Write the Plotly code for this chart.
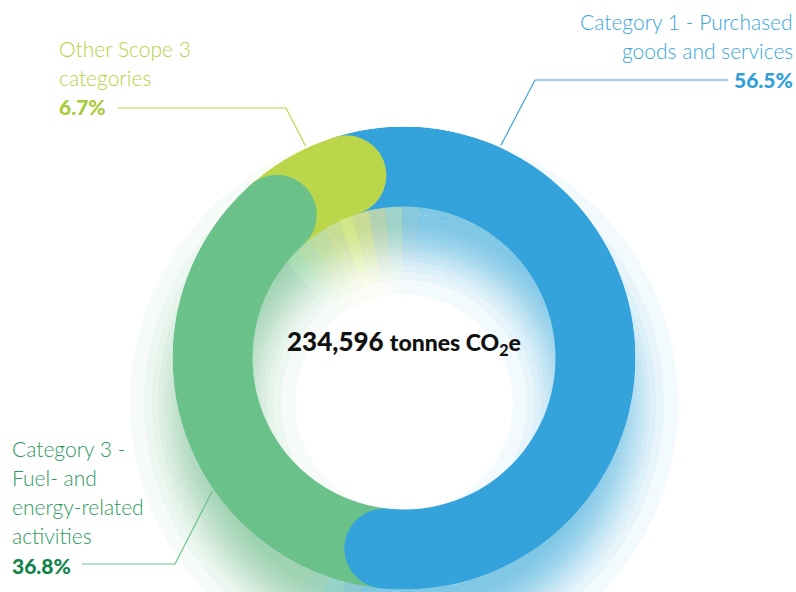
from math import erf

import numpy as np
import plotly.graph_objects as go

# data
categories = ["Category 1 - Purchased goods and services",
              "Category 3 - Fuel- and energy-related activities",
              "Other Scope 3 categories"]
shares = [56.5, 36.8, 6.7]
colors = ["#34a3db", "#6bc18a", "#bbd64a"]
total_text = "234,596"

# label text, one list per category (same order as above)
label_lines = [["Category 1 - Purchased", "goods and services"],
               ["Category 3 -", "Fuel- and", "energy-related", "activities"],
               ["Other Scope 3", "categories"]]
label_colors = ["#39a5dd", "#2e9a5e", "#b3d345"]
pct_colors = ["#2f9fd9", "#11844a", "#a8cb39"]

W, H = 796, 592
CX, CY = 404, 358          # ring centre, px from top-left
R_OUT, R_IN = 231.5, 151.5
R_MID = (R_OUT + R_IN) / 2
START = -17.5              # degrees clockwise from 12 o'clock

spans = np.array(shares) / 100 * 360
starts = START + np.concatenate([[0], np.cumsum(spans)[:-1]])
ends = starts + spans
mids = (starts + ends) / 2


def px(x, y):
    # pixel -> paper coords
    return x / W, 1 - y / H


def hex_rgb(h):
    h = h.lstrip("#")
    return np.array([int(h[i:i + 2], 16) for i in (0, 2, 4)], dtype=float)


# ---- soft drop shadow: stacked faint ring sectors, shifted down ----
SH_DY, SIG, PEAK, ALPHA = 45, 25, 0.7, 0.06
SCX, SCY = CX, CY + SH_DY
verf = np.vectorize(erf)
d_grid = np.arange(-40, 100, 0.25)          # distance beyond the ring edge
r_grid = R_OUT + d_grid
prof = PEAK * 0.5 * (verf((r_grid - R_IN) / (SIG * 2 ** 0.5))
                     - verf((r_grid - R_OUT) / (SIG * 2 ** 0.5)))
n_cov = np.log(1 - prof) / np.log(1 - ALPHA)
spreads = [d_grid[n_cov >= k - 0.5].max() for k in range(1, int(n_cov.max()) + 1)]

cap_deg = np.degrees((R_OUT - R_IN) / 2 / R_MID)
bounds = ends + cap_deg          # where visible colour i hands over to i+1
TW, NSTEP = 10, 4
pieces = []
for i in range(3):
    j = (i + 1) % 3
    b_prev = bounds[i - 1] - (360 if i == 0 else 0)
    pieces.append((b_prev + TW, bounds[i] - TW, hex_rgb(colors[i])))
    for s in range(NSTEP):
        f = (s + 0.5) / NSTEP
        a0 = bounds[i] - TW + s * 2 * TW / NSTEP
        pieces.append((a0, a0 + 2 * TW / NSTEP,
                       (1 - f) * hex_rgb(colors[i]) + f * hex_rgb(colors[j])))
p_theta = [(a0 + a1) / 2 for a0, a1, _ in pieces]
p_width = [a1 - a0 for a0, a1, _ in pieces]
p_col = [f"rgba({c[0]:.0f},{c[1]:.0f},{c[2]:.0f},{ALPHA})" for _, _, c in pieces]

# the shadow polar is as big as fits below the shadow centre
R_SPLIT = min(SCX, W - SCX, SCY, H - SCY)


def ring_sector(cx, cy, r0, r1, a0, a1):
    t = np.radians(np.linspace(a0, a1, int(abs(a1 - a0)) + 2))
    xs = np.concatenate([cx + r1 * np.sin(t), cx + r0 * np.sin(t[::-1])])
    ys = np.concatenate([cy - r1 * np.cos(t), cy - r0 * np.cos(t[::-1])])
    return np.append(xs, xs[0]), np.append(ys, ys[0])


fig = go.Figure()
# outer part of the shadow (beyond R_SPLIT) in pixel-space cartesian axes
for sp in spreads:
    for (a0, a1, _), col in zip(pieces, p_col):
        xs, ys = ring_sector(SCX, SCY, R_SPLIT, R_OUT + sp, a0, a1)
        fig.add_trace(go.Scatter(
            x=xs, y=ys, mode="lines", fill="toself", line=dict(width=0),
            fillcolor=col, hoverinfo="skip", showlegend=False))

# inner part of the shadow (inside R_SPLIT) as faint polar bars
for sp in spreads:
    base = R_IN - sp
    fig.add_trace(go.Barpolar(
        r=[R_SPLIT - base] * len(pieces), base=base, theta=p_theta, width=p_width,
        marker=dict(color=p_col, line=dict(width=0)),
        hoverinfo="skip", showlegend=False, subplot="polar"))

# ---- the ring itself ----
fig.add_trace(go.Barpolar(
    r=[R_OUT - R_IN] * 3, base=R_IN, theta=mids, width=spans,
    marker=dict(color=colors, line=dict(width=0)),
    text=categories, hoverinfo="text", showlegend=False, subplot="polar2",
))

# rounded end caps
for i in [2, 1, 0]:
    fig.add_trace(go.Scatterpolar(
        r=[R_MID], theta=[ends[i]], mode="markers",
        marker=dict(size=R_OUT - R_IN, color=colors[i], line=dict(width=0)),
        hoverinfo="skip", showlegend=False, subplot="polar2",
    ))

# ---- labels ----
LABEL_FONT = "Lato"
line_h = 29.3
label_pos = [(795, 21, "right"), (10, 448, "left"), (57, 48, "left")]
annotations = []
for i, (lx, ly, side) in enumerate(label_pos):
    for k, txt in enumerate(label_lines[i]):
        x, y = px(lx, ly + k * line_h)
        annotations.append(dict(
            x=x, y=y, xref="paper", yref="paper", text=txt, showarrow=False,
            xanchor=side, yanchor="middle",
            font=dict(family=LABEL_FONT, size=21, color=label_colors[i], weight=300)))
    x, y = px(lx, ly + len(label_lines[i]) * line_h)
    annotations.append(dict(
        x=x, y=y, xref="paper", yref="paper", text=f"{shares[i]}%", showarrow=False,
        xanchor=side, yanchor="middle",
        font=dict(family=LABEL_FONT, size=21, color=pct_colors[i], weight=900)))

# centre total
x, y = px(CX, 342)
annotations.append(dict(
    x=x, y=y, xref="paper", yref="paper", showarrow=False,
    text=f"{total_text} <span style='font-size:23px'>tonnes CO<sub>2</sub>e</span>",
    font=dict(family=LABEL_FONT, size=26, color="#111111", weight=900)))

# leader lines: label elbow -> ring edge
leaders = [((728, 80), (535, 80), 24.5),
           ((82, 564), (175, 564), 235.2),
           ((118, 108), (286, 108), -24.9)]
shapes = []
for i, (p0, p1, ang) in enumerate(leaders):
    a = np.radians(ang)
    p2 = (CX + (R_OUT + 2) * np.sin(a), CY - (R_OUT + 2) * np.cos(a))
    pts = [px(*p0), px(*p1), px(*p2)]
    path = "M " + " L ".join(f"{u:.5f},{v:.5f}" for u, v in pts)
    shapes.append(dict(type="path", path=path, xref="paper", yref="paper",
                       line=dict(color=colors[i], width=1.2)))

polar_common = dict(
    bgcolor="rgba(0,0,0,0)",
    angularaxis=dict(rotation=90, direction="clockwise", visible=False),
)
fig.update_layout(
    width=W, height=H,
    margin=dict(l=0, r=0, t=0, b=0),
    paper_bgcolor="white", plot_bgcolor="rgba(0,0,0,0)",
    xaxis=dict(range=[0, W], visible=False, domain=[0, 1]),
    yaxis=dict(range=[H, 0], visible=False, domain=[0, 1]),
    polar=dict(
        domain=dict(x=[(SCX - R_SPLIT) / W, (SCX + R_SPLIT) / W],
                    y=[(H - SCY - R_SPLIT) / H, (H - SCY + R_SPLIT) / H]),
        radialaxis=dict(range=[0, R_SPLIT], visible=False), **polar_common),
    polar2=dict(
        domain=dict(x=[(CX - R_OUT) / W, (CX + R_OUT) / W],
                    y=[(H - CY - R_OUT) / H, (H - CY + R_OUT) / H]),
        radialaxis=dict(range=[0, R_OUT], visible=False), **polar_common),
    annotations=annotations,
    shapes=shapes,
    showlegend=False,
)

fig.write_html("out.html", config={"displayModeBar": False},
               post_script="document.body.style.margin='0';")
